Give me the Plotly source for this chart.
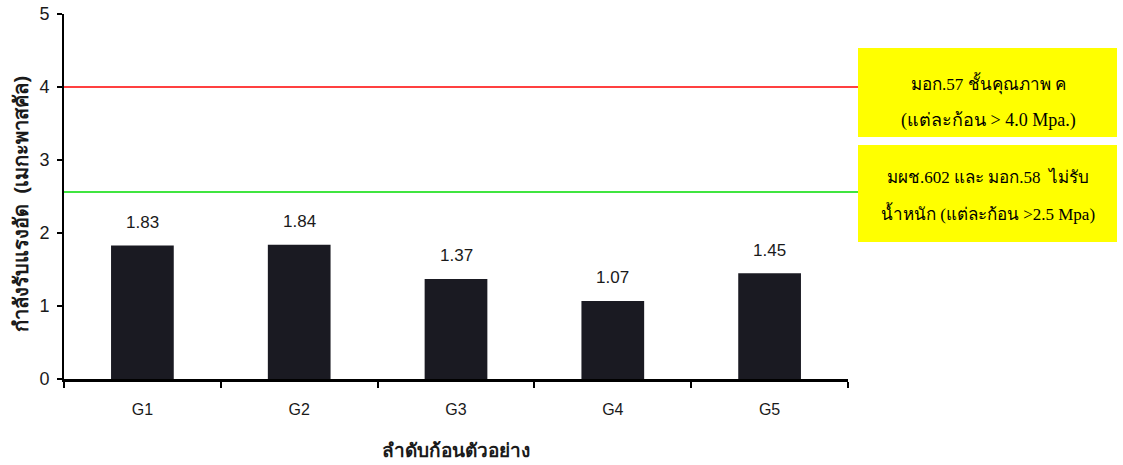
import plotly.graph_objects as go

# Compressive strength of sample blocks (MPa)
samples = ["G1", "G2", "G3", "G4", "G5"]
strength = [1.83, 1.84, 1.37, 1.07, 1.45]

# Standard thresholds
limit_class_c = 4.0
limit_non_load = 2.56

box_class_c = ["มอก.57 ชั้นคุณภาพ ค", "(แต่ละก้อน > 4.0 Mpa.)"]
box_non_load = ["มผช.602 และ มอก.58  ไม่รับ", "น้ำหนัก (แต่ละก้อน >2.5 Mpa)"]

y_ticks = [0, 1, 2, 3, 4, 5]

W, H = 1123, 465
L, R, T, B = 64, 275, 14, 86
PW, PH = W - L - R, H - T - B


def px_x(x):
    return (x - L) / PW


def px_y(y):
    return (H - B - y) / PH


fig = go.Figure()
fig.add_trace(go.Bar(
    x=samples, y=strength, width=0.4,
    marker=dict(color="#1a1a22", line=dict(width=0)),
    hoverinfo="x+y",
))

annotations = []
for s, v in zip(samples, strength):
    annotations.append(dict(
        x=s, y=v, xref="x", yref="y", text=f"{v:.2f}", showarrow=False,
        yanchor="middle", yshift=23,
        font=dict(family="Liberation Sans, Arial", size=17, color="#1a1a1a"),
    ))

shapes = [
    dict(type="line", xref="paper", yref="y", x0=0, x1=px_x(858),
         y0=limit_class_c, y1=limit_class_c, line=dict(color="#ff0000", width=1.5)),
    dict(type="line", xref="paper", yref="y", x0=0, x1=px_x(858),
         y0=limit_non_load, y1=limit_non_load, line=dict(color="#00dd00", width=1.5)),
    dict(type="rect", xref="paper", yref="paper", x0=px_x(858), x1=px_x(1117),
         y0=px_y(137), y1=px_y(48), fillcolor="#ffff00", line=dict(width=0)),
    dict(type="rect", xref="paper", yref="paper", x0=px_x(858), x1=px_x(1117),
         y0=px_y(242), y1=px_y(145), fillcolor="#ffff00", line=dict(width=0)),
]

serif = "Liberation Serif, Times New Roman, serif"
for text, ypx, size in zip(box_class_c, [83, 120], [17, 18]):
    annotations.append(dict(
        x=px_x(988), y=px_y(ypx), xref="paper", yref="paper", text=text,
        showarrow=False, xanchor="center", yanchor="middle",
        font=dict(family=serif, size=size, color="#000000"),
    ))
for text, ypx in zip(box_non_load, [177, 213]):
    annotations.append(dict(
        x=px_x(988), y=px_y(ypx), xref="paper", yref="paper", text=text,
        showarrow=False, xanchor="center", yanchor="middle",
        font=dict(family=serif, size=17, color="#000000"),
    ))

# Axis titles
annotations.append(dict(
    x=px_x(20), y=px_y(204), xref="paper", yref="paper",
    text="<b>กำลังรับแรงอัด  (เมกะพาสคัล)</b>", textangle=-90, showarrow=False,
    xanchor="center", yanchor="middle",
    font=dict(family="Noto Sans, Liberation Sans", size=20, color="#1a1a1a"),
))
annotations.append(dict(
    x=px_x(456), y=px_y(450), xref="paper", yref="paper",
    text="<b>ลำดับก้อนตัวอย่าง</b>", showarrow=False,
    xanchor="center", yanchor="middle",
    font=dict(family="Noto Sans, Liberation Sans", size=19, color="#1a1a1a"),
))

fig.update_layout(
    width=W, height=H,
    margin=dict(l=L, r=R, t=T, b=B, autoexpand=False),
    plot_bgcolor="white", paper_bgcolor="white",
    showlegend=False,
    annotations=annotations, shapes=shapes,
    bargap=0.6,
)
fig.update_xaxes(
    type="category", showline=True, linecolor="#000000", linewidth=3,
    ticks="outside", tickson="boundaries", ticklen=6, tickwidth=2, tickcolor="#000000",
    showgrid=False, zeroline=False, ticklabelstandoff=14,
    tickfont=dict(family="Liberation Sans, Arial", size=16, color="#1a1a1a"),
)
fig.update_yaxes(
    range=[0, 5], tickvals=y_ticks, showline=True, linecolor="#000000", linewidth=2,
    ticks="outside", ticklen=5, tickwidth=2, tickcolor="#000000",
    showgrid=False, zeroline=False, ticklabelstandoff=4,
    tickfont=dict(family="Liberation Sans, Arial", size=18, color="#1a1a1a"),
)

fig.write_html("out.html")
